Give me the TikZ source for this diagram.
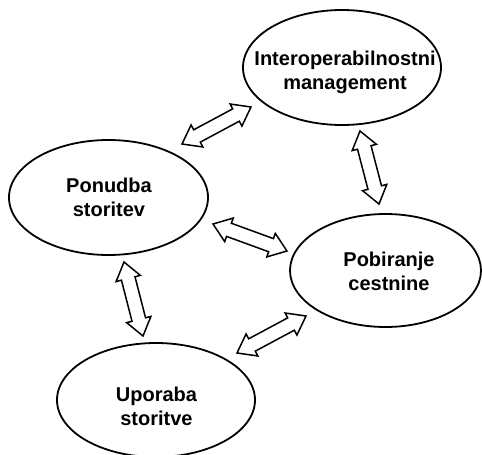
\documentclass[tikz,border=0pt]{standalone}
\usepackage{fontspec}
\setmainfont{Liberation Sans}
\usetikzlibrary{shapes.geometric,calc}

\tikzset{
  topic/.style={draw, ellipse, line width=1.8pt, inner sep=0pt},
  caption/.style={font=\bfseries\fontsize{20}{24}\selectfont, align=center, inner sep=0pt},
  linkarrow/.style={draw, line width=1.5pt, fill=white, line join=miter},
}

% hollow two-headed block arrow between two named points
\newcommand\twoway[2]{%
  \draw[linkarrow] (#1)
    -- ($(#1)!17pt!(#2)!12.5pt!90:(#2)$)
    -- ($(#1)!17pt!(#2)!7pt!90:(#2)$)
    -- ($(#2)!17pt!(#1)!7pt!-90:(#1)$)
    -- ($(#2)!17pt!(#1)!12.5pt!-90:(#1)$)
    -- (#2)
    -- ($(#2)!17pt!(#1)!12.5pt!90:(#1)$)
    -- ($(#2)!17pt!(#1)!7pt!90:(#1)$)
    -- ($(#1)!17pt!(#2)!7pt!-90:(#2)$)
    -- ($(#1)!17pt!(#2)!12.5pt!-90:(#2)$)
    -- cycle;}

\begin{document}
\begin{tikzpicture}[x=1pt, y=-1pt]
  \useasboundingbox (0,0) rectangle (482,455);
  \clip (0,0) rectangle (482,455);

  % the four areas
  \node[topic, minimum width=198pt, minimum height=115pt] (im) at (342,67.5) {};
  \node[topic, minimum width=199pt, minimum height=115pt] (ps) at (108.5,197.5) {};
  \node[topic, minimum width=191pt, minimum height=113pt] (pc) at (385.5,270.5) {};
  \node[topic, minimum width=198pt, minimum height=114pt] (us) at (156,400) {};

  \node[caption] (imt) at (345,72) {Interoperabilnostni\\management};
  \node[caption] (pst) at (109,197.5) {Ponudba\\storitev};
  \node[caption] (pct) at (389,271.5) {Pobiranje\\cestnine};
  \node[caption] (ust) at (156.5,406) {Uporaba\\storitve};

  % arrow ends
  \coordinate (a1) at (182,144);  \coordinate (a2) at (251,107);
  \coordinate (b1) at (360,131);  \coordinate (b2) at (379,204);
  \coordinate (c1) at (213,224);  \coordinate (c2) at (287,251);
  \coordinate (d1) at (124,262);  \coordinate (d2) at (143,336);
  \coordinate (e1) at (237,353);  \coordinate (e2) at (306,316);

  \twoway{a1}{a2}
  \twoway{b1}{b2}
  \twoway{c1}{c2}
  \twoway{d1}{d2}
  \twoway{e1}{e2}
\end{tikzpicture}
\end{document}
